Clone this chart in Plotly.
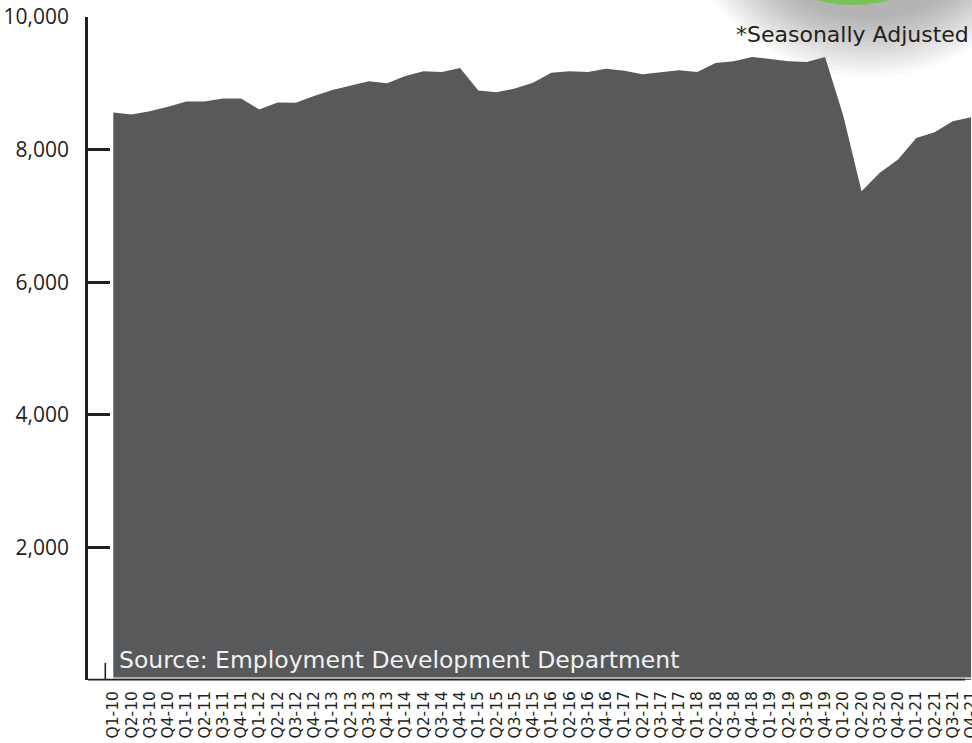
import plotly.graph_objects as go

# Quarterly employment (thousands), seasonally adjusted
quarters = [
    "Q1-10", "Q2-10", "Q3-10", "Q4-10",
    "Q1-11", "Q2-11", "Q3-11", "Q4-11",
    "Q1-12", "Q2-12", "Q3-12", "Q4-12",
    "Q1-13", "Q2-13", "Q3-13", "Q4-13",
    "Q1-14", "Q2-14", "Q3-14", "Q4-14",
    "Q1-15", "Q2-15", "Q3-15", "Q4-15",
    "Q1-16", "Q2-16", "Q3-16", "Q4-16",
    "Q1-17", "Q2-17", "Q3-17", "Q4-17",
    "Q1-18", "Q2-18", "Q3-18", "Q4-18",
    "Q1-19", "Q2-19", "Q3-19", "Q4-19",
    "Q1-20", "Q2-20", "Q3-20", "Q4-20",
    "Q1-21", "Q2-21", "Q3-21", "Q4-21",
]
employment = [
    8560, 8530, 8580, 8645,
    8727, 8727, 8770, 8770,
    8606, 8712, 8706, 8810,
    8900, 8970, 9030, 9000,
    9110, 9180, 9170, 9230,
    8890, 8865, 8920, 9010,
    9160, 9180, 9170, 9220,
    9190, 9135, 9160, 9195,
    9171, 9307, 9331, 9397,
    9367, 9331, 9322, 9397,
    8512, 7372, 7650, 7850,
    8176, 8261, 8427, 8487,
]
y_ticks = [2000, 4000, 6000, 8000, 10000]
y_tick_text = ["2,000", "4,000", "6,000", "8,000", "10,000"]

W, H = 972, 743
ML, MR, MT, MB = 88, 0, 17, 63
PW, PH = W - ML - MR, H - MT - MB

INK = "#231f20"
AREA = "#58595b"
GREEN = "#78c257"


def px_x(x):
    return (x - ML) / PW


def px_y(y):
    return (H - MB - y) / PH


fig = go.Figure()
fig.add_trace(go.Scatter(
    x=quarters, y=employment,
    mode="lines", fill="tozeroy",
    line=dict(width=0, color=AREA),
    fillcolor=AREA,
    hoverinfo="x+y",
    showlegend=False,
))

shapes = []

# soft drop shadow under the green badge
cx, cy, r = 853, -131, 136
sx, sy = cx + 16, cy + 10
n = 16
for k in range(n):
    rr = r + 62 * (n - k) / n
    shapes.append(dict(
        type="circle", xref="paper", yref="paper", layer="below",
        x0=px_x(sx - rr), x1=px_x(sx + rr),
        y0=px_y(sy + rr), y1=px_y(sy - rr),
        fillcolor="rgba(0,0,0,0.02)", line=dict(width=0),
    ))
# green badge
shapes.append(dict(
    type="circle", xref="paper", yref="paper", layer="above",
    x0=px_x(cx - r), x1=px_x(cx + r),
    y0=px_y(cy + r), y1=px_y(cy - r),
    fillcolor=GREEN, line=dict(width=0),
))

# thin white gap above the baseline, then the baseline itself
shapes.append(dict(
    type="line", xref="paper", yref="paper", layer="above",
    x0=px_x(108), x1=1.0, y0=px_y(678.2), y1=px_y(678.2),
    line=dict(color="white", width=1.3),
))
shapes.append(dict(
    type="line", xref="paper", yref="paper", layer="above",
    x0=0, x1=px_x(965), y0=px_y(679.6), y1=px_y(679.6),
    line=dict(color=INK, width=1.8),
))
# small end mark at the foot of the axis
shapes.append(dict(
    type="line", xref="paper", yref="paper", layer="above",
    x0=px_x(105.3), x1=px_x(105.3), y0=px_y(663), y1=px_y(679.6),
    line=dict(color=INK, width=1.6),
))

annotations = [
    dict(
        text="Source: Employment Development Department",
        xref="paper", yref="paper", x=px_x(117), y=px_y(660),
        xanchor="left", yanchor="middle", showarrow=False,
        font=dict(family="DejaVu Sans", size=23.5, color="#f1f1f2"),
    ),
    dict(
        text="*Seasonally Adjusted",
        xref="paper", yref="paper", x=px_x(971), y=px_y(34),
        xanchor="right", yanchor="middle", showarrow=False,
        font=dict(family="DejaVu Sans", size=22, color=INK),
    ),
]

step = 18.25
first = 113.3
fig.update_layout(
    width=W, height=H,
    margin=dict(l=ML, r=MR, t=MT, b=MB, pad=0),
    paper_bgcolor="white", plot_bgcolor="rgba(0,0,0,0)",
    shapes=shapes, annotations=annotations,
    xaxis=dict(
        type="category",
        range=[(ML - first) / step, (W - MR - first) / step],
        tickmode="linear", tick0=0, dtick=1,
        showgrid=False, zeroline=False, showline=False,
        ticks="", tickangle=-90,
        tickfont=dict(family="DejaVu Sans", size=15.5, color=INK),
        ticklabelstandoff=7,
        automargin=False,
    ),
    yaxis=dict(
        range=[0, 10000],
        tickvals=y_ticks, ticktext=y_tick_text,
        showgrid=False, zeroline=False,
        showline=True, linecolor=INK, linewidth=2.5,
        ticks="inside", ticklen=22, tickwidth=2.5, tickcolor=INK,
        tickfont=dict(family="Open Sans", size=21, color=INK),
        ticklabelstandoff=12,
        automargin=False,
    ),
)

fig.write_html("out.html")
